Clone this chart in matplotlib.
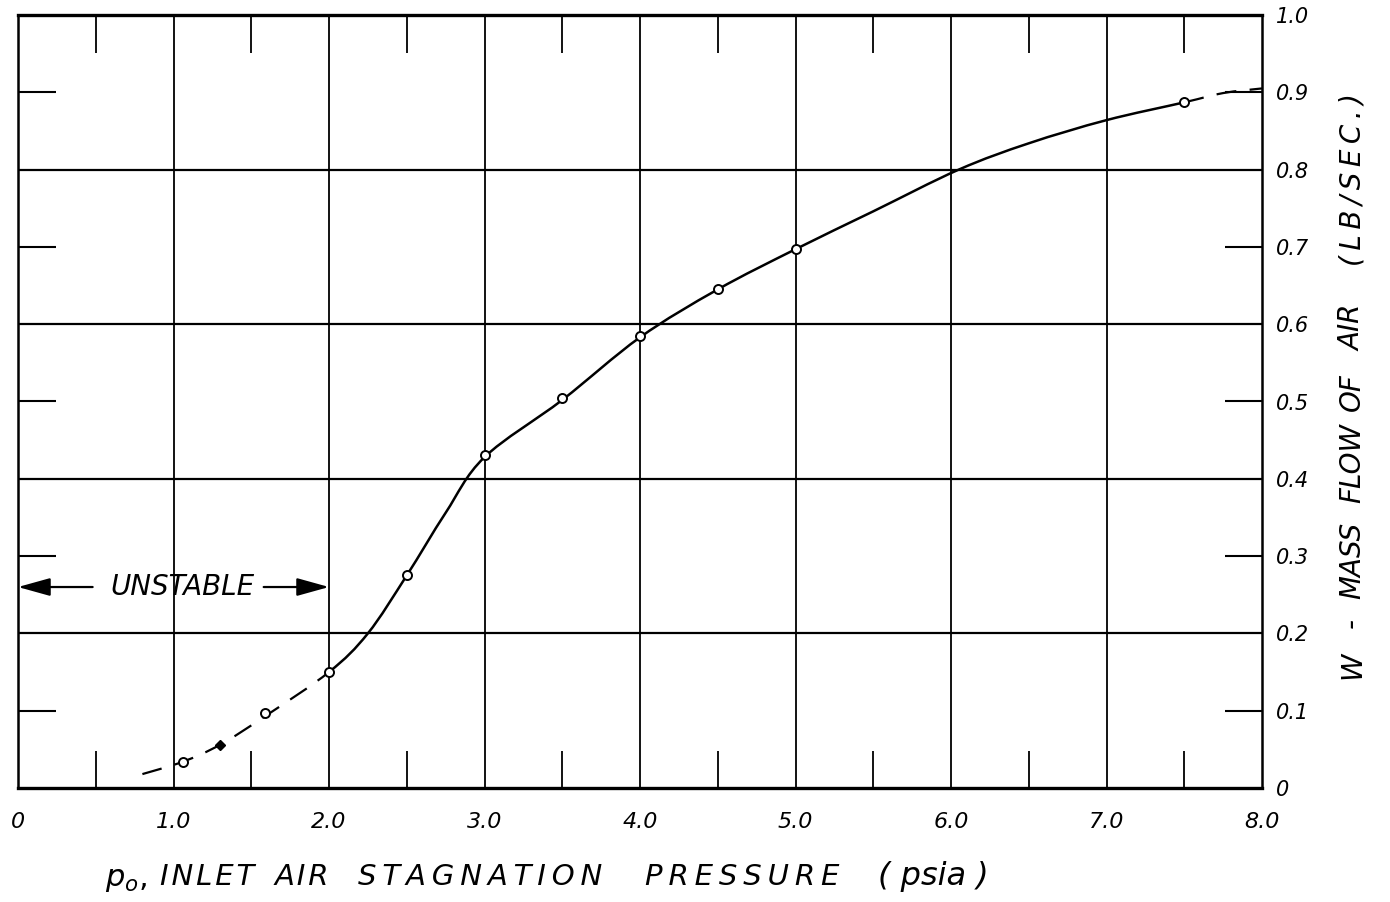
import numpy as np
import matplotlib
matplotlib.use("Agg")
import matplotlib.pyplot as plt
from matplotlib.path import Path
from matplotlib.patches import PathPatch

# measured points (psia, lb/sec)
pts_x = [1.06, 1.59, 2.0, 2.5, 3.0, 3.5, 4.0, 4.5, 5.0, 7.5]
pts_y = [0.034, 0.097, 0.150, 0.275, 0.431, 0.505, 0.585, 0.645, 0.697, 0.887]
odd_x, odd_y = [1.30], [0.056]   # filled mark on the dashed part

# faired curve: dashed / solid / dashed
dash_lo_x = [0.80, 1.06, 1.30, 1.59]
dash_lo_y = [0.018, 0.034, 0.056, 0.093]
solid_x = [2.0, 2.25, 2.5, 2.75, 3.0, 3.5, 4.0, 4.5, 5.0, 5.5, 6.05, 6.5, 7.0]
solid_y = [0.150, 0.200, 0.275, 0.356, 0.428, 0.502, 0.583, 0.645, 0.697, 0.746, 0.800, 0.834, 0.864]
dash_hi_x = [7.5, 7.75, 8.0]
dash_hi_y = [0.887, 0.899, 0.905]

xtick_vals = [0, 1, 2, 3, 4, 5, 6, 7, 8]
xtick_labels = ["0", "1.0", "2.0", "3.0", "4.0", "5.0", "6.0", "7.0", "8.0"]
ytick_vals = [0, 0.1, 0.2, 0.3, 0.4, 0.5, 0.6, 0.7, 0.8, 0.9, 1.0]
ytick_labels = ["0", "0.1", "0.2", "0.3", "0.4", "0.5", "0.6", "0.7", "0.8", "0.9", "1.0"]

hand = dict(family="DejaVu Sans", style="italic", weight="light")
THIN = "\u2009"
HAIR = "\u200a"


def smooth_path(xs, ys, i0, i1):
    # Catmull-Rom through the knots, drawn as cubic Bezier segments
    P = np.column_stack([xs, ys])
    n = len(P)
    verts = [P[i0]]
    codes = [Path.MOVETO]
    for i in range(i0, i1):
        p0 = P[max(i - 1, 0)]
        p1, p2 = P[i], P[i + 1]
        p3 = P[min(i + 2, n - 1)]
        verts += [p1 + (p2 - p0) / 6, p2 - (p3 - p1) / 6, p2]
        codes += [Path.CURVE4] * 3
    return Path(verts, codes)


fig = plt.figure(figsize=(13.9, 9.02), dpi=100)
ax = fig.add_axes([18 / 1390, 1 - 788 / 902, 1244 / 1390, 773 / 902])
ax.set_xlim(0, 8)
ax.set_ylim(0, 1.0)

# grid
for gx in range(1, 8):
    ax.axvline(gx, color="black", lw=1.3)
for gy in [0.2, 0.4, 0.6, 0.8]:
    ax.axhline(gy, color="black", lw=1.6)
for s in ax.spines.values():
    s.set_linewidth(1.8)
ax.spines["top"].set_linewidth(2.4)
ax.spines["bottom"].set_linewidth(2.4)

# ticks
ax.xaxis.remove_overlapping_locs = False
ax.yaxis.remove_overlapping_locs = False
ax.set_xticks(xtick_vals)
ax.set_xticklabels(xtick_labels, fontsize=16, **hand)
ax.set_xticks(np.arange(0.5, 8, 1.0), minor=True)
ax.tick_params(axis="x", which="major", length=0, pad=17)
ax.tick_params(axis="x", which="minor", direction="in", length=27, width=1.3,
               top=True, bottom=True)
ax.set_yticks(ytick_vals)
ax.set_yticklabels(ytick_labels, fontsize=15, **hand)
ax.set_yticks(np.arange(0.1, 1.0, 0.2), minor=True)
ax.tick_params(axis="y", which="major", length=0, pad=10, left=False, right=True,
               labelleft=False, labelright=True)
ax.tick_params(axis="y", which="minor", direction="in", length=27, width=1.5,
               left=True, right=True)

# curve
cx = dash_lo_x + solid_x + [7.5] + dash_hi_x[1:]
cy = dash_lo_y + solid_y + [0.887] + dash_hi_y[1:]
n_lo = len(dash_lo_x)
n_hi = n_lo + len(solid_x)
ax.add_patch(PathPatch(smooth_path(cx, cy, 0, n_lo), fill=False, lw=1.6, ls=(0, (9, 6))))
ax.add_patch(PathPatch(smooth_path(cx, cy, n_lo, n_hi), fill=False, lw=1.8))
ax.add_patch(PathPatch(smooth_path(cx, cy, n_hi, len(cx) - 1), fill=False, lw=1.6,
                       ls=(0, (9, 6))))
ax.plot(pts_x, pts_y, ls="none", marker="o", ms=6.5, mfc="white", mec="black", mew=1.4)
ax.plot(odd_x, odd_y, ls="none", marker="D", ms=5, color="black")

# unstable band
ax.text(1.06, 0.26, "UNSTABLE", ha="center", va="center", fontsize=20, **hand)
ax.annotate("", xy=(0, 0.26), xytext=(0.48, 0.26),
            arrowprops=dict(arrowstyle="-|>,head_length=0.9,head_width=0.25", color="black",
                            lw=1.6, mutation_scale=22, shrinkA=0, shrinkB=0))
ax.annotate("", xy=(2.0, 0.26), xytext=(1.58, 0.26),
            arrowprops=dict(arrowstyle="-|>,head_length=0.9,head_width=0.25", color="black",
                            lw=1.6, mutation_scale=22, shrinkA=0, shrinkB=0))

# axis titles
fig.text(105 / 1390, 1 - 880 / 902, r"$p_o$,", fontsize=22, ha="left", va="center")
for word, x0, gap in [("INLET", 160, HAIR), ("AIR", 275, HAIR),
                      ("STAGNATION", 358, THIN), ("PRESSURE", 645, THIN)]:
    fig.text(x0 / 1390, 1 - 877 / 902, gap.join(word), fontsize=21,
             ha="left", va="center", **hand)
fig.text(878 / 1390, 1 - 877 / 902, "( psia )", fontsize=23, ha="left", va="center", **hand)
for word, yc, gap in [("W", 665, ""), ("-", 623, ""), ("MASS", 560, ""), ("FLOW", 463, ""),
                      ("OF", 392, ""), ("AIR", 328, ""), ("(LB/SEC.)", 180, THIN)]:
    fig.text(1352 / 1390, 1 - yc / 902, gap.join(word), fontsize=20, rotation=90,
             ha="center", va="center", **hand)

fig.savefig("out.png", dpi=100)
